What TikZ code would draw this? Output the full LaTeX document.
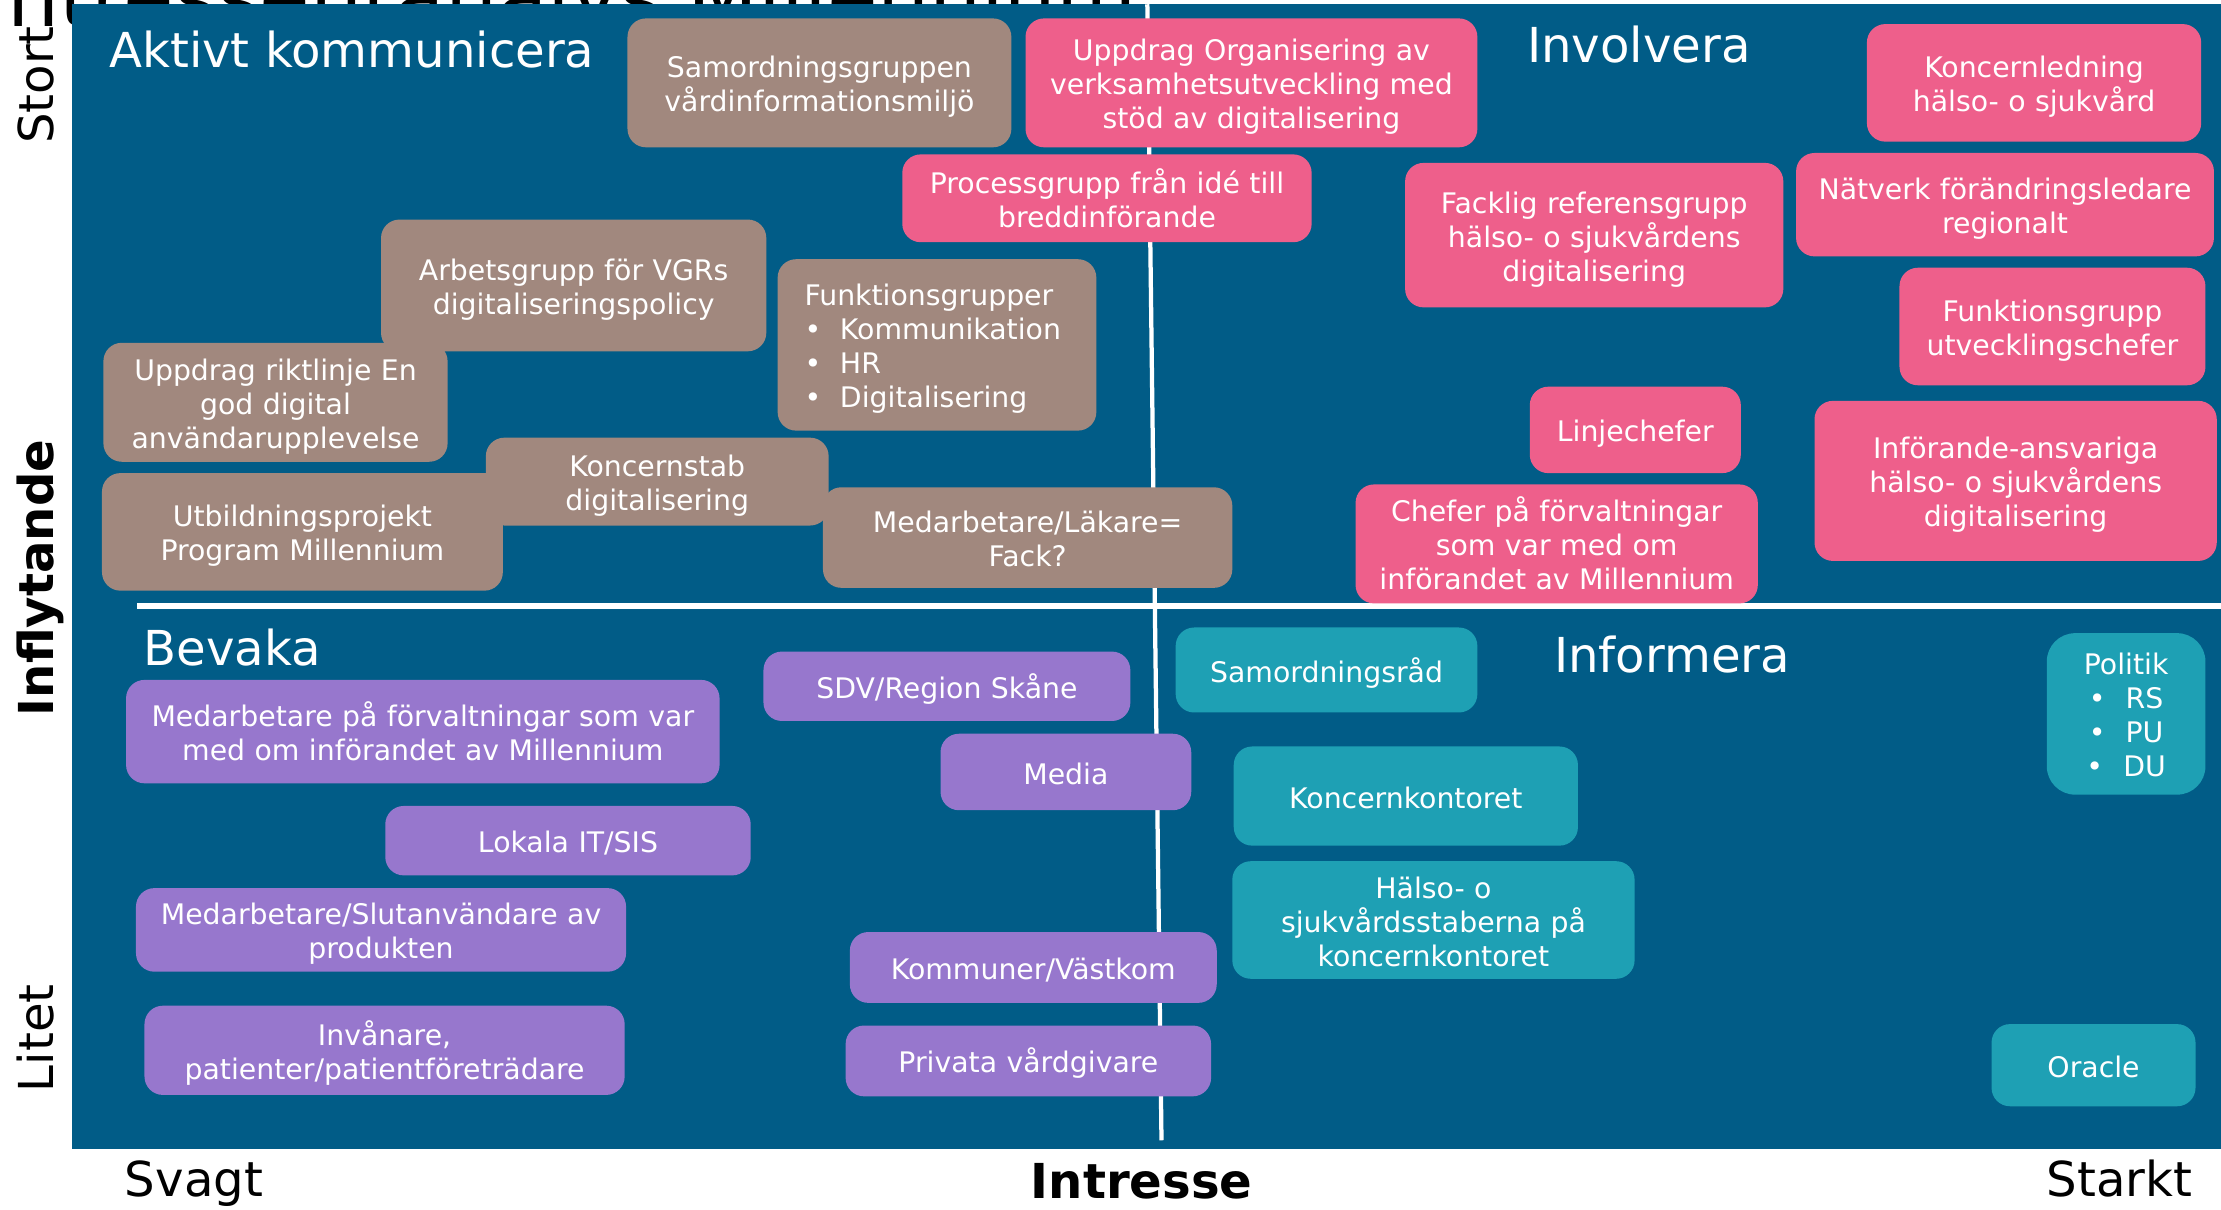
\documentclass[tikz,border=0pt]{standalone}
\usepackage{fontspec}
\setmainfont{DejaVu Sans}
\definecolor{bgblue}{RGB}{1,92,135}
\definecolor{boxbrown}{RGB}{161,136,126}
\definecolor{boxpink}{RGB}{238,95,139}
\definecolor{boxpurple}{RGB}{151,119,205}
\definecolor{boxteal}{RGB}{30,160,180}
\newcommand{\bulletitem}[2]{\makebox[#1][l]{•}#2}
\begin{document}
\begin{tikzpicture}[x=1pt,y=-1pt,
  % a box given by its left, top, right and bottom edges
  corners/.style args={#1/#2/#3/#4}{
    minimum width={(#3)-(#1)}, minimum height={(#4)-(#2)},
    text width={(#3)-(#1)-4},
    at={({((#1)+(#3))/2},{((#2)+(#4))/2})}, anchor=center},
  % struts give every text block the same line metrics
  stakebox/.style={rounded corners=13pt, inner sep=0pt, align=center, text=white,
    font=\fontsize{20}{24}\selectfont,
    execute at begin node={\rule{0pt}{22pt}},
    execute at end node={\rule[-5pt]{0pt}{5pt}}},
  brownbox/.style={stakebox, fill=boxbrown},
  pinkbox/.style={stakebox, fill=boxpink},
  purplebox/.style={stakebox, fill=boxpurple},
  tealbox/.style={stakebox, fill=boxteal},
  quadtitle/.style={anchor=base west, inner sep=0pt, text=white, font=\fontsize{34}{40}\selectfont},
  axislabel/.style={inner sep=0pt, text=black, font=\fontsize{34}{40}\selectfont},
  divider/.style={draw=white}
]
\useasboundingbox (0,0) rectangle (1568,854);
\fill[white] (0,0) rectangle (1568,854);

% heading, largely covered by the matrix panel
\node[anchor=base west, inner sep=0pt, font=\fontsize{58}{60}\selectfont] (heading) at (-12,19) {Intressentanalys Millennium};

% matrix panel
\fill[bgblue] (51,3) rectangle (1568,811);

% quadrant dividers
\coordinate (vtop) at (810,3);
\coordinate (vbot) at (820,805);
\coordinate (hleft) at (97,428);
\coordinate (hright) at (1568,428);
\draw[divider, line width=3pt] (vtop) -- (vbot);
\draw[divider, line width=4.5pt] (hleft) -- (hright);

% quadrant titles
\node[quadtitle] (qaktivt) at (77,48) {Aktivt kommunicera};
\node[quadtitle] (qinvolvera) at (1078,44) {Involvera};
\node[quadtitle] (qbevaka) at (101,470) {Bevaka};
\node[quadtitle] (qinformera) at (1097,475) {Informera};

% axis labels
\node[axislabel, rotate=90, anchor=base] (stort) at (38,60) {Stort};
\node[axislabel, rotate=90, anchor=base, font=\fontsize{34}{40}\selectfont\bfseries] (inflytande) at (38,408) {Inflytande};
\node[axislabel, rotate=90, anchor=base] (litet) at (38,733) {Litet};
\node[axislabel, anchor=base west] (svagt) at (88,845) {Svagt};
\node[axislabel, anchor=base, font=\fontsize{34}{40}\selectfont\bfseries] (intresse) at (806,846) {Intresse};
\node[axislabel, anchor=base east] (starkt) at (1548,845) {Starkt};

% Aktivt kommunicera
\node[brownbox, corners=443/13/714/104] (samgrupp) {Samordningsgruppen\\vårdinformationsmiljö};
\node[brownbox, corners=269/155/541/248] (arbetsgrupp) {Arbetsgrupp för VGRs\\digitaliseringspolicy};
\node[brownbox, corners=549/183/774/304, align=left, text width=187pt] (funktionsgrupper) {Funktionsgrupper\\\bulletitem{25pt}{Kommunikation}\\\bulletitem{25pt}{HR}\\\bulletitem{25pt}{Digitalisering}};
\node[brownbox, corners=73/242/316/326] (riktlinje) {Uppdrag riktlinje En\\god digital\\användarupplevelse};
\node[brownbox, corners=343/309/585/371] (koncernstab) {Koncernstab\\digitalisering};
\node[brownbox, corners=72/334/355/417] (utbildning) {Utbildningsprojekt\\Program Millennium};
\node[brownbox, corners=581/344/870/415] (lakare) {Medarbetare/Läkare=\\Fack?};

% Involvera
\node[pinkbox, corners=724/13/1043/104] (organisering) {Uppdrag Organisering av\\verksamhetsutveckling med\\stöd av digitalisering};
\node[pinkbox, corners=637/109/926/171] (processgrupp) {Processgrupp från idé till\\breddinförande};
\node[pinkbox, corners=1318/17/1554/100] (koncernledning) {Koncernledning\\hälso- o sjukvård};
\node[pinkbox, corners=992/115/1259/217] (facklig) {Facklig referensgrupp\\hälso- o sjukvårdens\\digitalisering};
\node[pinkbox, corners=1268/108/1563/181] (natverk) {Nätverk förändringsledare\\regionalt};
\node[pinkbox, corners=1341/189/1557/272] (utvchefer) {Funktionsgrupp\\utvecklingschefer};
\node[pinkbox, corners=1080/273/1229/334] (linjechefer) {Linjechefer};
\node[pinkbox, corners=1281/283/1565/396] (inforande) {Införande-ansvariga\\hälso- o sjukvårdens\\digitalisering};
\node[pinkbox, corners=957/342/1241/426] (chefer) {Chefer på förvaltningar\\som var med om\\införandet av Millennium};

% Bevaka
\node[purplebox, corners=89/480/508/553] (medforv) {Medarbetare på förvaltningar som var\\med om införandet av Millennium};
\node[purplebox, corners=539/460/798/509] (sdv) {SDV/Region Skåne};
\node[purplebox, corners=664/518/841/572] (media) {Media};
\node[purplebox, corners=272/569/530/618] (lokalait) {Lokala IT/SIS};
\node[purplebox, corners=96/627/442/686] (slutanv) {Medarbetare/Slutanvändare av\\produkten};
\node[purplebox, corners=600/658/859/708] (kommuner) {Kommuner/Västkom};
\node[purplebox, corners=102/710/441/773] (invanare) {Invånare,\\patienter/patientföreträdare};
\node[purplebox, corners=597/724/855/774] (privata) {Privata vårdgivare};

% Informera
\node[tealbox, corners=830/443/1043/503] (samrad) {Samordningsråd};
\node[tealbox, corners=871/527/1114/597] (koncernkontoret) {Koncernkontoret};
\node[tealbox, corners=870/608/1154/691] (staberna) {Hälso- o\\sjukvårdsstaberna på\\koncernkontoret};
\node[tealbox, corners=1445/447/1557/561, rounded corners=20pt] (politik) {Politik\\\bulletitem{26pt}{RS}\\\bulletitem{26pt}{PU}\\\bulletitem{26pt}{DU}};
\node[tealbox, corners=1406/723/1550/781] (oracle) {Oracle};
\end{tikzpicture}
\end{document}
